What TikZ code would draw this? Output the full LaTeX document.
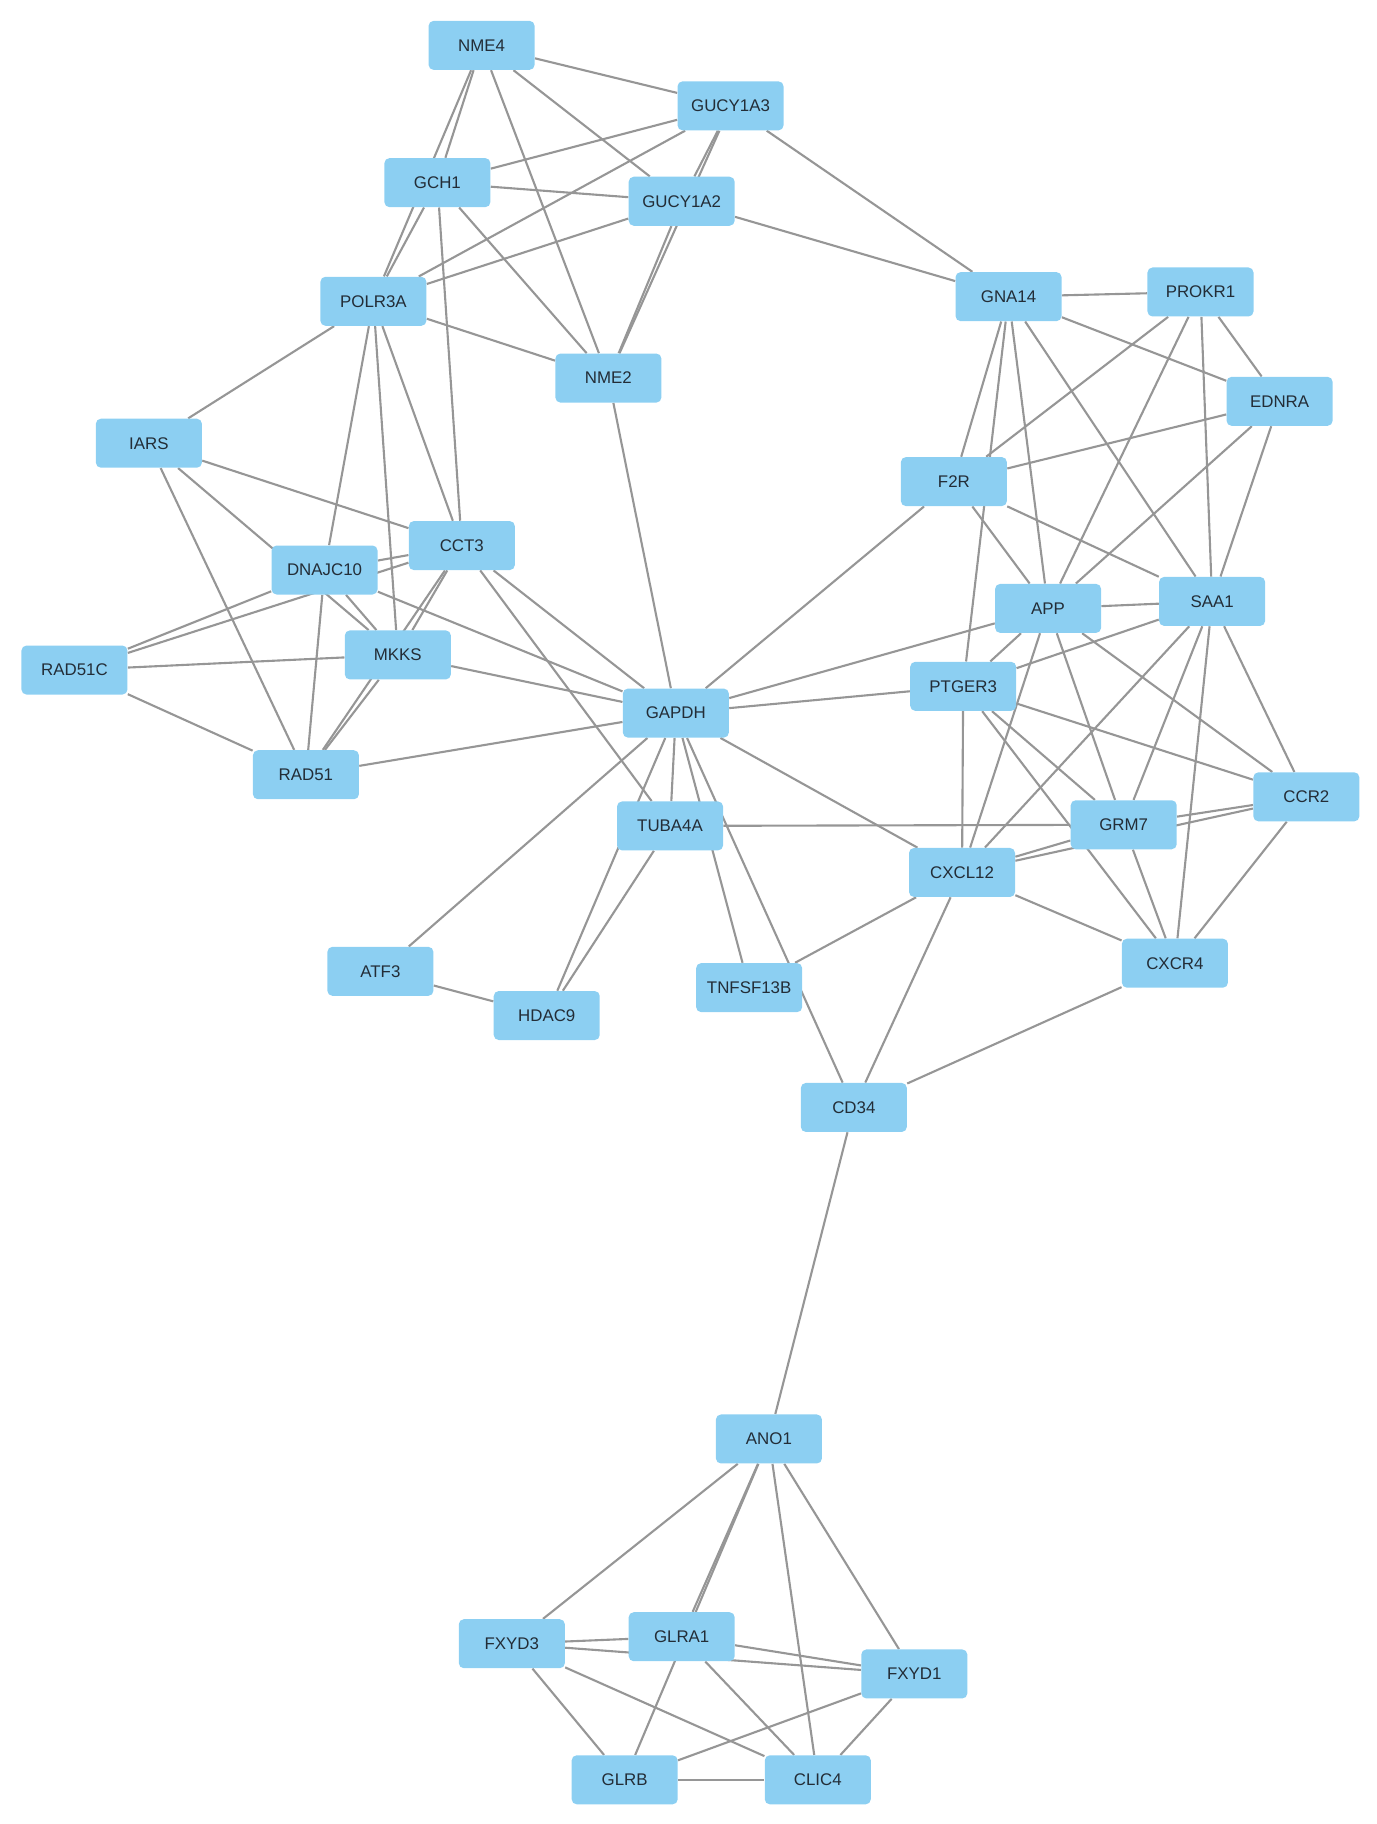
\documentclass[tikz,border=0pt]{standalone}
\usepackage{fontspec}
\setmainfont{Liberation Sans}
\usetikzlibrary{backgrounds}
\definecolor{genefill}{RGB}{140,207,242}
\definecolor{genetext}{RGB}{35,45,55}
\definecolor{edgegray}{RGB}{150,150,150}

\begin{document}
\begin{tikzpicture}[x=0.23263mm, y=-0.23263mm,
  gene/.style={fill=genefill, rounded corners=1mm, minimum width=21.2mm,
    minimum height=9.8mm, inner sep=0pt, text=genetext,
    font=\fontsize{9.6}{11}\selectfont},
  link/.style={draw=edgegray, line width=1.2pt}]
  \useasboundingbox (0,0) rectangle (1183,1568);

  % Upper left group
  \node[gene] (NME4)    at (414,39)  {NME4};
  \node[gene] (GUCY1A3) at (628,91)  {GUCY1A3};
  \node[gene] (GCH1)    at (376,157) {GCH1};
  \node[gene] (GUCY1A2) at (586,173) {GUCY1A2};
  \node[gene] (POLR3A)  at (321,259) {POLR3A};
  \node[gene] (NME2)    at (523,325) {NME2};
  \node[gene] (IARS)    at (128,381) {IARS};
  \node[gene] (CCT3)    at (397,469) {CCT3};
  \node[gene] (DNAJC10) at (279,490) {DNAJC10};
  \node[gene] (RAD51C)  at (64,576)  {RAD51C};
  \node[gene] (MKKS)    at (342,563) {MKKS};
  \node[gene] (RAD51)   at (263,666) {RAD51};

  % Hub and middle
  \node[gene] (GAPDH)    at (581,613) {GAPDH};
  \node[gene] (TUBA4A)   at (576,710) {TUBA4A};
  \node[gene] (ATF3)     at (327,835) {ATF3};
  \node[gene] (HDAC9)    at (470,873) {HDAC9};
  \node[gene] (TNFSF13B) at (644,849) {TNFSF13B};
  \node[gene] (CD34)     at (734,952) {CD34};

  % Right group
  \node[gene] (GNA14)  at (867,255)  {GNA14};
  \node[gene] (PROKR1) at (1032,251) {PROKR1};
  \node[gene] (EDNRA)  at (1100,345) {EDNRA};
  \node[gene] (F2R)    at (820,414)  {F2R};
  \node[gene] (APP)    at (901,523)  {APP};
  \node[gene] (SAA1)   at (1042,517) {SAA1};
  \node[gene] (PTGER3) at (828,590)  {PTGER3};
  \node[gene] (GRM7)   at (966,709)  {GRM7};
  \node[gene] (CCR2)   at (1123,685) {CCR2};
  \node[gene] (CXCL12) at (827,750)  {CXCL12};
  \node[gene] (CXCR4)  at (1010,828) {CXCR4};

  % Lower group
  \node[gene] (ANO1)  at (661,1237) {ANO1};
  \node[gene] (FXYD3) at (440,1413) {FXYD3};
  \node[gene] (GLRA1) at (586,1407) {GLRA1};
  \node[gene] (FXYD1) at (786,1439) {FXYD1};
  \node[gene] (GLRB)  at (537,1530) {GLRB};
  \node[gene] (CLIC4) at (703,1530) {CLIC4};

  % Interactions, behind the boxes
  \begin{scope}[on background layer]
    \foreach \a/\b in {NME4/GUCY1A3, NME4/GCH1, NME4/POLR3A, NME4/NME2, NME4/GUCY1A2,
        GCH1/GUCY1A3, GCH1/GUCY1A2, GCH1/POLR3A, GCH1/NME2, GCH1/CCT3,
        GUCY1A3/POLR3A, GUCY1A2/POLR3A, GUCY1A3/GUCY1A2, GUCY1A3/NME2, GUCY1A2/NME2,
        GUCY1A3/GNA14, GUCY1A2/GNA14,
        POLR3A/NME2, POLR3A/IARS, POLR3A/DNAJC10, POLR3A/MKKS, POLR3A/CCT3,
        NME2/GAPDH,
        IARS/CCT3, IARS/MKKS, IARS/RAD51,
        RAD51C/DNAJC10, RAD51C/CCT3, RAD51C/MKKS, RAD51C/RAD51,
        DNAJC10/CCT3, DNAJC10/MKKS, DNAJC10/RAD51, DNAJC10/GAPDH,
        CCT3/MKKS, CCT3/RAD51, CCT3/GAPDH, CCT3/TUBA4A,
        MKKS/RAD51, MKKS/GAPDH, RAD51/GAPDH}
      \draw[link] (\a) -- (\b);
    \foreach \a/\b in {GAPDH/F2R, GAPDH/APP, GAPDH/PTGER3, GAPDH/CXCL12, GAPDH/TUBA4A,
        GAPDH/ATF3, GAPDH/HDAC9, GAPDH/TNFSF13B, GAPDH/CD34,
        TUBA4A/HDAC9, TUBA4A/GRM7, ATF3/HDAC9, TNFSF13B/CXCL12}
      \draw[link] (\a) -- (\b);
    \foreach \a/\b in {GNA14/PROKR1, GNA14/EDNRA, GNA14/F2R, GNA14/PTGER3, GNA14/APP, GNA14/SAA1,
        PROKR1/F2R, PROKR1/APP, PROKR1/SAA1, PROKR1/EDNRA,
        EDNRA/F2R, EDNRA/APP, EDNRA/SAA1, F2R/APP, F2R/SAA1,
        APP/SAA1, APP/PTGER3, APP/CXCL12, APP/GRM7, APP/CCR2,
        SAA1/PTGER3, SAA1/CXCL12, SAA1/GRM7, SAA1/CXCR4, SAA1/CCR2,
        PTGER3/CCR2, PTGER3/GRM7, PTGER3/CXCR4, PTGER3/CXCL12,
        CXCL12/GRM7, CXCL12/CCR2, CXCL12/CXCR4, CXCL12/CD34,
        GRM7/CCR2, GRM7/CXCR4, CCR2/CXCR4, CXCR4/CD34}
      \draw[link] (\a) -- (\b);
    \foreach \a/\b in {CD34/ANO1,
        ANO1/FXYD3, ANO1/GLRA1, ANO1/GLRB, ANO1/CLIC4, ANO1/FXYD1,
        FXYD3/GLRA1, FXYD3/FXYD1, FXYD3/GLRB, FXYD3/CLIC4,
        GLRA1/FXYD1, GLRA1/CLIC4, GLRB/CLIC4, GLRB/FXYD1, CLIC4/FXYD1}
      \draw[link] (\a) -- (\b);
  \end{scope}
\end{tikzpicture}
\end{document}
